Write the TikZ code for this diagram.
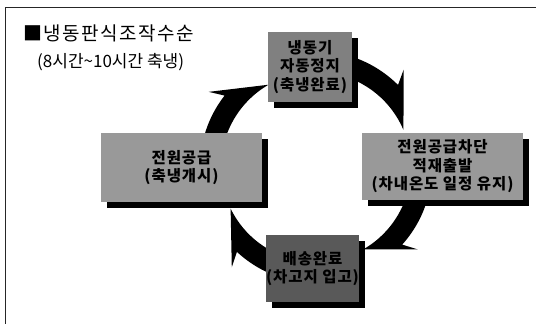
\documentclass[tikz,border=0pt]{standalone}
\usepackage{fontspec}
\newfontfamily\kr{Noto Sans CJK KR}
\usetikzlibrary{shadows}
\newcommand\cyclearrow[3]{%
  \fill[ringarrow] (#1:96) -- (#1:116) arc[start angle=#1, end angle=#2, radius=116]
    -- (#2+3:131) -- (#3:95) arc[start angle=#3, end angle=#1, radius=95] -- cycle;}
\begin{document}
\begin{tikzpicture}[x=1pt,y=1pt,
  ringarrow/.style={fill=black},
  stagebox/.style={rectangle, inner sep=0pt, align=center, text=black,
    font=\kr\bfseries\fontsize{15.5}{18.5}\selectfont\addfontfeature{LetterSpace=6},
    drop shadow={shadow xshift=6pt, shadow yshift=-6pt, fill=black, opacity=1}},
  frameline/.style={line width=0.9pt, draw=black!85}]
\useasboundingbox (0,0) rectangle (536,324);
\fill[white] (0,0) rectangle (536,324);
% frame
\coordinate (fbl) at (5,0);
\coordinate (ftl) at (5,317);
\coordinate (ftr) at (536,317);
\draw[frameline] (fbl) -- (ftl) -- (ftr);
% title
\node[anchor=west, font=\kr\fontsize{19}{21}\selectfont\addfontfeature{LetterSpace=8}, inner sep=0pt] (title) at (23,291) {■냉동판식조작수순};
\node[anchor=west, font=\kr\fontsize{17}{20}\selectfont, inner sep=0pt] (sub) at (37,262) {(8시간\textasciitilde10시간 축냉)};
% cycle arrows
\coordinate (c) at (316,157);
\begin{scope}[shift={(c)}]
  \cyclearrow{168}{142}{120}
  \cyclearrow{78}{45}{23}
  \cyclearrow{-12}{-42}{-60}
  \cyclearrow{-100}{-133}{-154}
\end{scope}
% stage boxes
\node[stagebox, fill=black!50, minimum width=84pt, minimum height=70pt] (top) at (310,257)
  {냉동기\\자동정지\\(축냉완료)};
\node[stagebox, fill=black!40, minimum width=161pt, minimum height=67pt] (right) at (442.5,157.5)
  {전원공급차단\\적재출발\\(차내온도 일정 유지)};
\node[stagebox, fill=black!65, minimum width=87pt, minimum height=67pt] (bottom) at (312.5,55.5)
  {배송완료\\(차고지 입고)};
\node[stagebox, fill=black!40, minimum width=161pt, minimum height=69pt] (left) at (181.5,156.5)
  {전원공급\\(축냉개시)};
\end{tikzpicture}
\end{document}
